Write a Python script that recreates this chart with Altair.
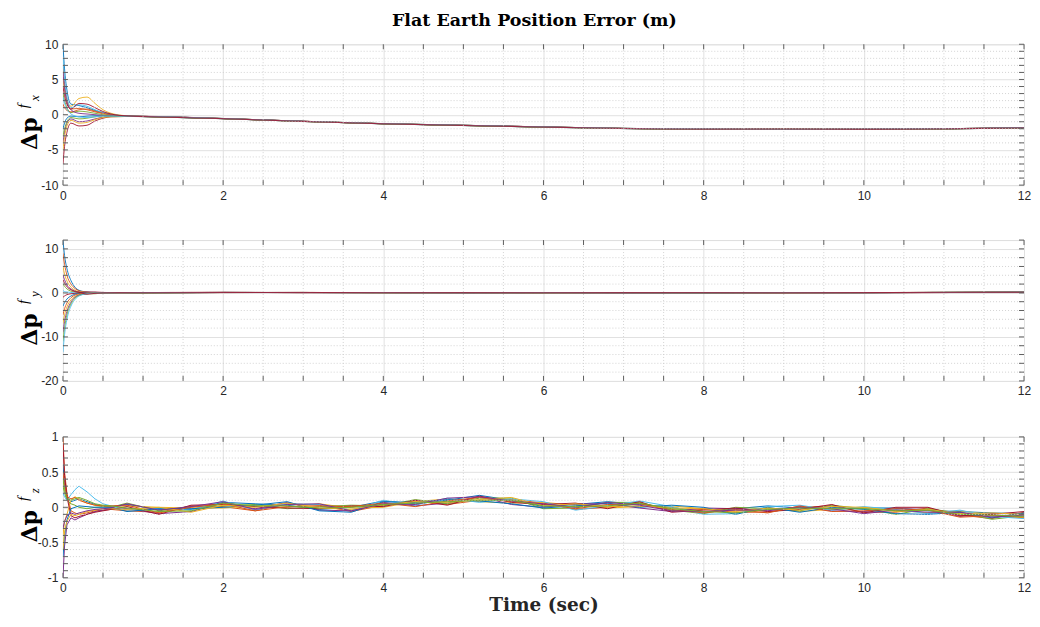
import altair as alt
import pandas as pd

COLORS = ["#0072BD", "#D95319", "#EDB120", "#7E2F8E", "#77AC30", "#4DBEEE", "#A2142F"]

TITLE = "Flat Earth Position Error (m)"
XTITLE = "Time (sec)"
YTITLE = "Δp"

X_LABELS = [0, 2, 4, 6, 8, 10, 12]
X_MINOR = [0.5, 1, 1.5, 2.5, 3, 3.5, 4.5, 5, 5.5, 6.5, 7, 7.5, 8.5, 9, 9.5, 10.5, 11, 11.5]
X_TICKS = [0, 0.5, 1, 1.5, 2, 2.5, 3, 3.5, 4, 4.5, 5, 5.5, 6, 6.5, 7, 7.5, 8, 8.5, 9, 9.5,
           10, 10.5, 11, 11.5, 12]

# ---------------- panel 1 : x ----------------
T_X = [0, 0.02, 0.05, 0.1, 0.2, 0.3, 0.4, 0.5, 0.6, 0.8, 1, 2, 3, 4, 5, 6, 7, 8, 9, 10, 11, 12]
TAIL_X1 = [-0.24, -0.54, -0.94, -1.27, -1.50, -1.74, -1.94, -2.04, -2.06, -2.06, -1.99, -1.86]
TAIL_X2 = [-0.26, -0.56, -0.96, -1.29, -1.53, -1.76, -1.96, -2.06, -2.04, -2.08, -2.01, -1.88]
TAIL_X3 = [-0.23, -0.55, -0.93, -1.28, -1.51, -1.73, -1.95, -2.03, -2.05, -2.05, -2.00, -1.85]
TAIL_X4 = [-0.27, -0.57, -0.96, -1.30, -1.54, -1.77, -1.97, -2.07, -2.06, -2.09, -2.02, -1.89]
EARLY_X = [
    [10.0, 6.5, 3.5, 1.5, 1.3, 1.0, 0.6, 0.3, 0.05, -0.2],
    [7.0, 4.5, 2.2, 0.8, 0.9, 0.7, 0.4, 0.15, -0.05, -0.2],
    [5.0, 3.5, 2.0, 1.2, 2.3, 2.5, 1.6, 0.7, 0.2, -0.15],
    [-4.0, -2.5, -1.2, -0.6, -1.0, -0.9, -0.6, -0.35, -0.25, -0.25],
    [3.0, 2.0, 1.0, 0.3, 0.5, 0.4, 0.2, 0.0, -0.1, -0.2],
    [8.0, 5.0, 2.5, 1.0, 1.4, 1.2, 0.7, 0.3, 0.05, -0.18],
    [-7.0, -4.5, -2.5, -1.2, -1.6, -1.5, -0.9, -0.5, -0.3, -0.25],
    [-2.0, -1.2, -0.5, -0.2, -0.3, -0.2, -0.15, -0.15, -0.2, -0.22],
    [1.5, 1.0, 0.6, 0.4, 0.7, 0.8, 0.5, 0.2, 0.0, -0.2],
    [-5.0, -3.2, -1.6, -0.8, -1.2, -1.1, -0.7, -0.4, -0.3, -0.25],
    [6.0, 3.8, 1.8, 0.7, 0.2, 0.1, 0.0, -0.1, -0.15, -0.2],
    [-3.0, -2.0, -1.0, -0.4, -0.6, -0.5, -0.3, -0.2, -0.2, -0.22],
    [2.5, 1.6, 0.8, 0.1, -0.3, -0.4, -0.3, -0.2, -0.2, -0.22],
    [4.0, 2.7, 1.5, 0.8, 1.6, 1.5, 1.0, 0.45, 0.1, -0.18],
]
TAILS_X = [TAIL_X1, TAIL_X2, TAIL_X3, TAIL_X4]

# ---------------- panel 2 : y ----------------
T_Y = [0, 0.02, 0.05, 0.1, 0.15, 0.2, 0.3, 0.4, 0.5, 0.7, 1, 2, 3, 4, 5, 6, 7, 8, 9, 10, 11, 12]
TAIL_Y1 = [0.05, 0.10, 0.08, 0.06, 0.04, 0.05, 0.04, 0.03, 0.04, 0.05, 0.10, 0.15]
TAIL_Y2 = [0.02, 0.08, 0.10, 0.04, 0.06, 0.03, 0.06, 0.05, 0.02, 0.07, 0.12, 0.13]
TAIL_Y3 = [0.08, 0.12, 0.06, 0.07, 0.03, 0.06, 0.02, 0.04, 0.05, 0.04, 0.08, 0.16]
TAIL_Y4 = [0.00, 0.09, 0.09, 0.05, 0.05, 0.04, 0.05, 0.02, 0.06, 0.06, 0.11, 0.14]
EARLY_Y = [
    [12.0, 8.5, 5.5, 2.8, 1.3, 0.6, 0.2, 0.1, 0.05, 0.05],
    [9.0, 6.5, 4.0, 2.0, 1.0, 0.5, 0.15, 0.05, 0.05, 0.05],
    [6.0, 4.3, 2.7, 1.3, 0.6, 0.3, 0.1, 0.0, 0.0, 0.05],
    [4.0, 3.0, 1.8, 0.9, 0.4, 0.2, 0.05, -0.1, 0.0, 0.05],
    [2.0, 1.5, 0.9, 0.4, 0.2, 0.1, -0.2, -0.2, 0.0, 0.05],
    [0.5, 0.3, 0.2, 0.1, 0.0, -0.1, -0.1, 0.0, 0.05, 0.05],
    [-1.0, -0.7, -0.4, -0.2, -0.1, 0.0, 0.2, 0.2, 0.1, 0.05],
    [-3.0, -2.2, -1.4, -0.7, -0.3, -0.15, 0.0, 0.1, 0.05, 0.05],
    [-5.0, -3.6, -2.3, -1.1, -0.5, -0.25, -0.05, 0.0, 0.05, 0.05],
    [-7.0, -5.0, -3.2, -1.6, -0.8, -0.4, -0.1, 0.0, 0.05, 0.05],
    [-9.0, -6.5, -4.2, -2.1, -1.0, -0.5, -0.15, 0.0, 0.05, 0.05],
    [-11.0, -8.0, -5.0, -2.5, -1.2, -0.6, -0.2, -0.05, 0.0, 0.05],
    [-13.5, -9.5, -6.0, -3.0, -1.5, -0.7, -0.2, -0.05, 0.0, 0.05],
    [3.0, 2.2, 1.4, 0.7, 0.3, 0.15, -0.3, -0.1, 0.0, 0.05],
]
TAILS_Y = [TAIL_Y1, TAIL_Y2, TAIL_Y3, TAIL_Y4]

# ---------------- panel 3 : z ----------------
T_Z = [0, 0.02, 0.05, 0.1, 0.15, 0.2, 0.3, 0.4, 0.5, 0.6,
       0.8, 1.2, 1.6, 2.0, 2.4, 2.8, 3.2, 3.6, 4.0, 4.4, 4.8, 5.2, 5.6, 6.0, 6.4, 6.8,
       7.2, 7.6, 8.0, 8.4, 8.8, 9.2, 9.6, 10.0, 10.4, 10.8, 11.2, 11.6, 12.0]
EARLY_Z = [
    [0.6, 0.35, 0.15, 0.08, 0.1, 0.12, 0.08, 0.04, 0.02, 0.01],
    [1.0, 0.5, 0.2, -0.05, -0.08, -0.1, -0.08, -0.05, -0.04, -0.03],
    [-0.4, -0.2, -0.1, 0.1, 0.15, 0.12, 0.06, 0.03, 0.02, 0.01],
    [-1.0, -0.55, -0.25, -0.15, -0.18, -0.15, -0.1, -0.06, -0.04, -0.02],
    [0.3, 0.2, 0.1, 0.05, 0.03, 0.0, -0.02, 0.0, 0.01, 0.0],
    [0.2, 0.15, 0.1, 0.18, 0.25, 0.3, 0.22, 0.12, 0.05, 0.02],
    [0.9, 0.45, 0.15, -0.12, -0.15, -0.13, -0.1, -0.07, -0.05, -0.03],
    [-0.7, -0.4, -0.18, -0.02, 0.0, 0.02, 0.01, 0.0, 0.0, 0.0],
    [0.5, 0.3, 0.15, 0.12, 0.14, 0.1, 0.06, 0.03, 0.02, 0.02],
    [-0.6, -0.35, -0.2, -0.1, -0.12, -0.1, -0.06, -0.04, -0.02, -0.02],
    [-0.3, -0.2, -0.12, -0.08, -0.1, -0.08, -0.05, -0.03, -0.02, -0.01],
    [0.4, 0.25, 0.12, 0.1, 0.12, 0.14, 0.1, 0.05, 0.03, 0.02],
]
TAILS_Z = [
    [0.04, -0.03, -0.03, 0.07, 0.05, 0.03, -0.03, 0.0, 0.09, 0.05, 0.10, 0.17, 0.10, 0.01, 0.04,
     0.08, 0.04, 0.0, -0.07, -0.02, 0.02, -0.01, -0.03, -0.01, -0.01, -0.05, -0.06, -0.08, -0.09],
    [-0.05, -0.07, 0.02, 0.01, -0.05, 0.05, 0.03, -0.06, 0.03, 0.09, 0.04, 0.10, 0.11, 0.06, -0.03,
     0.0, 0.06, -0.05, -0.03, -0.07, -0.07, 0.0, 0.02, -0.07, -0.07, -0.01, -0.11, -0.16, -0.07],
    [0.02, 0.0, -0.01, -0.01, 0.02, 0.0, 0.05, -0.01, 0.0, 0.08, 0.12, 0.08, 0.06, 0.07, 0.03,
     -0.01, 0.01, 0.02, -0.02, -0.05, -0.01, -0.06, -0.03, 0.0, -0.04, -0.08, -0.05, -0.11, -0.15],
    [-0.02, -0.09, -0.06, 0.06, -0.02, 0.07, -0.04, -0.05, 0.07, 0.02, 0.06, 0.15, 0.04, 0.0, 0.05,
     0.05, -0.01, -0.06, -0.01, -0.02, -0.05, 0.01, -0.05, -0.06, -0.02, -0.03, -0.13, -0.09, -0.09],
    [0.06, -0.05, 0.01, 0.02, 0.04, -0.02, 0.01, 0.03, 0.02, 0.11, 0.05, 0.13, 0.13, -0.02, -0.01,
     0.07, 0.07, -0.04, -0.09, 0.0, -0.02, -0.05, 0.03, -0.02, -0.10, -0.02, -0.08, -0.17, -0.12],
    [-0.04, -0.01, -0.04, 0.09, -0.04, 0.05, 0.04, -0.04, 0.10, 0.03, 0.13, 0.07, 0.12, 0.08, -0.04,
     0.02, 0.09, 0.01, -0.10, -0.09, 0.01, 0.03, -0.04, 0.01, -0.03, -0.09, -0.04, -0.13, -0.16],
    [0.01, -0.10, 0.03, 0.04, 0.01, -0.01, -0.02, 0.02, 0.01, 0.10, 0.03, 0.16, 0.07, 0.04, 0.06,
     -0.02, 0.08, -0.07, -0.04, -0.01, -0.06, -0.03, 0.04, -0.08, 0.0, 0.0, -0.12, -0.10, -0.06],
    [-0.06, -0.02, -0.02, 0.0, 0.03, 0.08, -0.05, -0.07, 0.08, 0.07, 0.11, 0.09, 0.05, -0.01, 0.02,
     0.06, 0.0, 0.03, 0.0, -0.10, 0.0, -0.07, 0.0, -0.03, -0.09, -0.10, -0.07, -0.15, -0.08],
    [0.03, -0.08, 0.0, 0.05, -0.05, 0.01, 0.02, 0.01, 0.06, 0.01, 0.09, 0.14, 0.08, 0.05, -0.02,
     0.04, 0.05, -0.03, -0.08, -0.03, -0.08, 0.02, -0.06, -0.05, -0.02, -0.04, -0.14, -0.12, -0.14],
    [-0.03, 0.0, -0.07, 0.03, 0.0, 0.06, -0.01, -0.03, 0.04, 0.08, 0.07, 0.11, 0.14, 0.02, 0.05,
     0.01, 0.02, -0.01, -0.02, -0.06, -0.01, -0.04, 0.01, 0.0, -0.06, -0.03, -0.09, -0.08, -0.10],
    [0.05, -0.04, 0.01, 0.08, -0.03, 0.04, 0.05, -0.05, 0.05, 0.04, 0.13, 0.15, 0.09, 0.05, 0.0,
     0.07, 0.03, -0.05, -0.06, -0.04, -0.04, 0.0, -0.02, -0.09, -0.04, -0.07, -0.07, -0.14, -0.11],
    [-0.01, -0.06, -0.05, 0.06, 0.02, 0.02, -0.01, 0.0, 0.04, 0.06, 0.08, 0.10, 0.10, 0.02, 0.01,
     0.02, 0.06, -0.02, -0.06, -0.08, -0.03, -0.01, -0.02, -0.02, -0.05, -0.04, -0.10, -0.11, -0.13],
]

PANELS = [
    dict(times=T_X, early=EARLY_X, tails=TAILS_X, dom=[-10, 10],
         labels=[-10, -5, 0, 5, 10],
         minor=[-9, -8, -7, -6, -4, -3, -2, -1, 1, 2, 3, 4, 6, 7, 8, 9],
         ticks=[-10, -9, -8, -7, -6, -5, -4, -3, -2, -1, 0, 1, 2, 3, 4, 5, 6, 7, 8, 9, 10],
         sub="x", interp="monotone", sw=0.9),
    dict(times=T_Y, early=EARLY_Y, tails=TAILS_Y, dom=[-20, 12],
         labels=[-20, -10, 0, 10],
         minor=[-18, -16, -14, -12, -8, -6, -4, -2, 2, 4, 6, 8],
         ticks=[-20, -18, -16, -14, -12, -10, -8, -6, -4, -2, 0, 2, 4, 6, 8, 10, 12],
         sub="y", interp="monotone", sw=0.9),
    dict(times=T_Z, early=EARLY_Z, tails=TAILS_Z, dom=[-1, 1],
         labels=[-1, -0.5, 0, 0.5, 1],
         minor=[-0.9, -0.8, -0.7, -0.6, -0.4, -0.3, -0.2, -0.1, 0.1, 0.2, 0.3, 0.4, 0.6, 0.7, 0.8, 0.9],
         ticks=[-1, -0.9, -0.8, -0.7, -0.6, -0.5, -0.4, -0.3, -0.2, -0.1, 0, 0.1, 0.2, 0.3, 0.4,
                0.5, 0.6, 0.7, 0.8, 0.9, 1],
         sub="z", interp="linear", sw=1.0),
]

W, H = 962, 141
TICK_LEN = 5
FRAME = "#5f5f5f"
GRID = "#e1e1e1"
MINOR = "#c9c9c9"
SANS = "Liberation Sans"
SERIF = "DejaVu Serif"
ISERIF = "Liberation Serif"


def build_frame(p):
    rows = []
    for i, early in enumerate(p["early"]):
        tail = p["tails"][i % len(p["tails"])]
        vals = list(early) + list(tail)
        for t, v in zip(p["times"], vals):
            rows.append({"t": t, "v": v, "run": i, "c": COLORS[i % len(COLORS)]})
    return pd.DataFrame(rows)


def make_panel(p, last):
    xscale = alt.Scale(domain=[0, 12], nice=False, zero=False)
    yscale = alt.Scale(domain=p["dom"], nice=False, zero=False)
    xaxis = alt.Axis(values=X_LABELS, grid=True, gridColor=GRID, gridWidth=1, ticks=False,
                     domain=False, labelFont=SANS, labelFontSize=12, labelColor="#262626",
                     labelPadding=5, labelFlush=False,
                     title=XTITLE if last else None,
                     titleFont=SERIF, titleFontSize=18.5, titleFontWeight="bold",
                     titleColor="#262626", titlePadding=2)
    yaxis = alt.Axis(values=p["labels"], grid=True, gridColor=GRID, gridWidth=1, ticks=False,
                     domain=False, labelFont=SANS, labelFontSize=12, labelColor="#262626",
                     labelPadding=5, labelExpr="toString(datum.value)",
                     title=YTITLE, titleFont=SERIF, titleFontSize=22, titleFontWeight="bold",
                     titleColor="#000000", titleAngle=270, titleAlign="center",
                     titleBaseline="middle", titleX=-33, titleY=89)

    df = build_frame(p)
    lines = alt.Chart(df).mark_line(strokeWidth=p["sw"], clip=True, interpolate=p["interp"]).encode(
        x=alt.X("t:Q", scale=xscale, axis=xaxis),
        y=alt.Y("v:Q", scale=yscale, axis=yaxis),
        color=alt.Color("c:N", scale=None),
        detail="run:N",
    )

    xminor = alt.Chart(pd.DataFrame({"t": X_MINOR})).mark_rule(
        color=MINOR, strokeDash=[1, 2], strokeWidth=0.8).encode(
        x=alt.X("t:Q", scale=xscale, axis=xaxis))
    yminor = alt.Chart(pd.DataFrame({"v": p["minor"]})).mark_rule(
        color=MINOR, strokeDash=[1, 2], strokeWidth=0.8).encode(
        y=alt.Y("v:Q", scale=yscale, axis=yaxis))

    xt = alt.Chart(pd.DataFrame({"t": X_TICKS}))
    xtick_top = xt.mark_rule(color=FRAME, strokeWidth=1).encode(
        x=alt.X("t:Q", scale=xscale, axis=xaxis), y=alt.value(0), y2=alt.value(TICK_LEN))
    xtick_bot = xt.mark_rule(color=FRAME, strokeWidth=1).encode(
        x=alt.X("t:Q", scale=xscale, axis=xaxis), y=alt.value(H - TICK_LEN), y2=alt.value(H))
    yt = alt.Chart(pd.DataFrame({"v": p["ticks"]}))
    ytick_l = yt.mark_rule(color=FRAME, strokeWidth=1).encode(
        y=alt.Y("v:Q", scale=yscale, axis=yaxis), x=alt.value(0), x2=alt.value(TICK_LEN))
    ytick_r = yt.mark_rule(color=FRAME, strokeWidth=1).encode(
        y=alt.Y("v:Q", scale=yscale, axis=yaxis), x=alt.value(W - TICK_LEN), x2=alt.value(W))

    one = alt.Chart(pd.DataFrame({"k": [0]}))
    lab_sup = one.mark_text(font=ISERIF, fontSize=15, fontStyle="italic", angle=270,
                            align="center", baseline="middle", color="#000000").encode(
        x=alt.value(-40), y=alt.value(62), text=alt.value("f"))
    lab_sub = one.mark_text(font=ISERIF, fontSize=13, fontStyle="italic", angle=270,
                            align="center", baseline="middle", color="#000000").encode(
        x=alt.value(-28), y=alt.value(54), text=alt.value(p["sub"]))

    return alt.layer(lines, xminor, yminor, xtick_top, xtick_bot, ytick_l, ytick_r,
                     lab_sup, lab_sub).properties(width=W, height=H)


charts = [make_panel(p, i == len(PANELS) - 1) for i, p in enumerate(PANELS)]

upper = alt.vconcat(charts[0], charts[1], spacing=37)
chart = alt.vconcat(upper, charts[2], spacing=32).properties(
    title=alt.TitleParams(TITLE, font=SERIF, fontSize=17.5, fontWeight="bold", anchor="middle",
                          color="#000000", offset=8, dx=11),
    padding={"left": 7, "top": 4, "right": 0, "bottom": 0},
).configure_view(stroke=FRAME, strokeWidth=1).configure(background="white")

chart.save("out.html", embed_options={"renderer": "svg", "actions": False})
